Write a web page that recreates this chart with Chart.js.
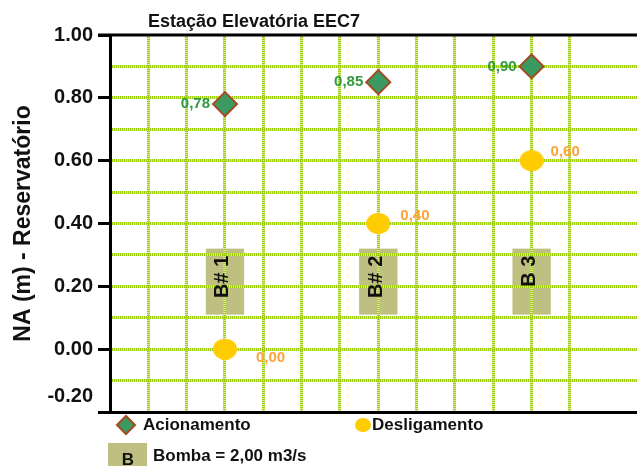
<!DOCTYPE html>
<html>
<head>
<meta charset="utf-8">
<title>Estação Elevatória EEC7</title>
<script src="https://cdn.jsdelivr.net/npm/chart.js@4.4.0/dist/chart.umd.min.js"></script>
<style>
  html, body { margin: 0; padding: 0; background: #fff; }
  #wrap { width: 637px; height: 466px; position: relative; }
</style>
</head>
<body>
<div id="wrap"><canvas id="chart" width="637" height="466"></canvas></div>
<script>
"use strict";

// Pumps along the x axis
const pumpLabels = ['B# 1', 'B# 2', 'B 3'];
const pumpX = [3, 7, 11];
// NA (m) levels
const startLevels = [0.78, 0.85, 0.90];   // Acionamento
const stopLevels = [0.00, 0.40, 0.60];    // Desligamento
// Pump boxes, NA (m) range
const pumpBoxLow = [0.11, 0.11, 0.11];
const pumpBoxHigh = [0.32, 0.32, 0.32];
// Labelled y ticks
const yTickLabels = [-0.2, 0.0, 0.2, 0.4, 0.6, 0.8, 1.0];

const FONT = "'Liberation Sans', Arial, sans-serif";
const GRID = '#9fcb12';
const GRID_LIGHT = '#d6eb98';
const OLIVE = '#bfbf82';
const GREEN = '#3a9a62';
const BROWN = '#a34a22';
const YELLOW = '#ffcc00';

// yellow ellipse used as point style
function ellipseStyle(w, h) {
    const c = document.createElement('canvas');
    c.width = w; c.height = h;
    const g = c.getContext('2d');
    g.fillStyle = YELLOW;
    g.beginPath();
    g.ellipse(w / 2, h / 2, w / 2, h / 2, 0, 0, Math.PI * 2);
    g.fill();
    return c;
}

function isMajor(v) {
    return yTickLabels.some(t => Math.abs(t - v) < 1e-6);
}
function xGridOn(v) { return v > 0 && Number.isInteger(v); }
function yGridOn(v) { return v < 0.95 && v > -0.15; }

// offsets of the Desligamento labels from their points
const stopLabelOffset = [[31, 9], [22, -8], [19, -9]];

const boxPlugin = {
    id: 'pumpBoxes',
    beforeDraw(chart) {
        const {ctx, chartArea: a, scales: {x, y}} = chart;
        ctx.save();
        ctx.fillStyle = OLIVE;
        pumpX.forEach((px, i) => {
            const l = x.getPixelForValue(px - 0.5), r = x.getPixelForValue(px + 0.5);
            const t = y.getPixelForValue(pumpBoxHigh[i]), b = y.getPixelForValue(pumpBoxLow[i]);
            ctx.fillRect(l, t, r - l, b - t);
        });
        // pale under-layer for the dotted grid
        ctx.strokeStyle = GRID_LIGHT;
        ctx.lineWidth = 3;
        ctx.beginPath();
        x.ticks.forEach(t => {
            if (!xGridOn(t.value)) return;
            const px = Math.floor(x.getPixelForValue(t.value)) + 0.5;
            ctx.moveTo(px, a.top); ctx.lineTo(px, a.bottom);
        });
        y.ticks.forEach(t => {
            if (!yGridOn(t.value)) return;
            const py = Math.floor(y.getPixelForValue(t.value)) + 0.5;
            ctx.moveTo(a.left, py); ctx.lineTo(a.right, py);
        });
        ctx.stroke();
        ctx.restore();
    },
    beforeDatasetsDraw(chart) {
        const {ctx, scales: {x, y}} = chart;
        ctx.save();
        ctx.fillStyle = '#111';
        ctx.font = 'bold 20px ' + FONT;
        ctx.textAlign = 'right';
        ctx.textBaseline = 'middle';
        pumpX.forEach((px, i) => {
            const cx = x.getPixelForValue(px);
            const top = y.getPixelForValue(pumpBoxHigh[i]) + 7;
            ctx.save();
            ctx.translate(cx - 2, top);
            ctx.rotate(-Math.PI / 2);
            ctx.fillText(pumpLabels[i], 0, 0);
            ctx.restore();
        });
        ctx.restore();
    },
    afterDatasetsDraw(chart) {
        const {ctx} = chart;
        ctx.save();
        ctx.font = 'bold 15px ' + FONT;
        ctx.textBaseline = 'middle';
        chart.getDatasetMeta(0).data.forEach((pt, i) => {
            ctx.fillStyle = '#2f9a3e';
            ctx.textAlign = 'right';
            ctx.fillText(startLevels[i].toFixed(2).replace('.', ','), pt.x - 15, pt.y);
        });
        chart.getDatasetMeta(1).data.forEach((pt, i) => {
            ctx.fillStyle = '#ffa23a';
            ctx.textAlign = 'left';
            const o = stopLabelOffset[i];
            ctx.fillText(stopLevels[i].toFixed(2).replace('.', ','), pt.x + o[0], pt.y + o[1]);
        });
        ctx.restore();
    },
    afterDraw(chart) {
        const {ctx, chartArea} = chart;
        ctx.save();
        // top frame line
        ctx.strokeStyle = '#000';
        ctx.lineWidth = 3;
        ctx.beginPath();
        ctx.moveTo(chartArea.left - 12, chartArea.top);
        ctx.lineTo(chartArea.right, chartArea.top);
        ctx.stroke();

        // title
        ctx.fillStyle = '#111';
        ctx.font = 'bold 18px ' + FONT;
        ctx.textAlign = 'center';
        ctx.textBaseline = 'middle';
        ctx.fillText('Estação Elevatória EEC7', 254, 22);

        // legend
        ctx.font = 'bold 17px ' + FONT;
        ctx.textAlign = 'left';
        ctx.beginPath();
        ctx.moveTo(117, 425); ctx.lineTo(126, 416); ctx.lineTo(135, 425); ctx.lineTo(126, 434);
        ctx.closePath();
        ctx.fillStyle = GREEN; ctx.fill();
        ctx.lineWidth = 2; ctx.strokeStyle = BROWN; ctx.stroke();
        ctx.fillStyle = '#111';
        ctx.fillText('Acionamento', 143, 425);

        ctx.fillStyle = YELLOW;
        ctx.beginPath();
        ctx.ellipse(363, 425, 8, 7, 0, 0, Math.PI * 2);
        ctx.fill();
        ctx.fillStyle = '#111';
        ctx.fillText('Desligamento', 372, 425);

        ctx.fillStyle = OLIVE;
        ctx.fillRect(108, 443, 39, 23);
        ctx.fillStyle = '#111';
        ctx.textAlign = 'center';
        ctx.fillText('B', 128, 460);
        ctx.textAlign = 'left';
        ctx.fillText('Bomba = 2,00 m3/s', 153, 456);
        ctx.restore();
    }
};

new Chart(document.getElementById('chart'), {
    type: 'scatter',
    data: {
        datasets: [{
            label: 'Acionamento',
            data: pumpX.map((px, i) => ({x: px, y: startLevels[i]})),
            pointStyle: 'rectRot',
            pointRadius: 12,
            pointHoverRadius: 12,
            backgroundColor: GREEN,
            borderColor: BROWN,
            borderWidth: 2,
            clip: false
        }, {
            label: 'Desligamento',
            data: pumpX.map((px, i) => ({x: px, y: stopLevels[i]})),
            pointStyle: ellipseStyle(24, 21),
            backgroundColor: YELLOW,
            clip: false
        }]
    },
    options: {
        responsive: false,
        animation: false,
        layout: {autoPadding: false, padding: {top: 35, bottom: 54, left: 0, right: 0}},
        plugins: {
            legend: {display: false},
            tooltip: {enabled: false}
        },
        scales: {
            x: {
                type: 'linear',
                min: 0,
                max: 13.75,
                ticks: {display: false, stepSize: 1},
                grid: {
                    drawTicks: false,
                    lineWidth: 3,
                    color: c => (c.tick && xGridOn(c.tick.value)) ? GRID : 'rgba(0,0,0,0)'
                },
                border: {color: '#000', width: 3, dash: [1, 1]},
                afterFit: s => { s.height = 0; }
            },
            y: {
                min: -0.2,
                max: 1.0,
                ticks: {
                    stepSize: 0.1,
                    autoSkip: false,
                    padding: 5,
                    color: '#111',
                    font: {family: FONT, size: 20, weight: 'bold', lineHeight: 1.6},
                    callback: v => {
                        if (!isMajor(v)) return '';
                        const s = Math.abs(v) < 1e-9 ? '0.00' : v.toFixed(2);
                        return v < -0.1 ? [s, ''] : s;
                    }
                },
                grid: {
                    lineWidth: 3,
                    tickLength: 12,
                    tickWidth: 3,
                    color: c => (c.tick && yGridOn(c.tick.value)) ? GRID : 'rgba(0,0,0,0)',
                    tickColor: c => (c.tick && isMajor(c.tick.value)) ? '#000' : 'rgba(0,0,0,0)'
                },
                border: {color: '#000', width: 3, dash: [1, 1]},
                title: {
                    display: true,
                    text: 'NA (m) - Reservatório',
                    color: '#111',
                    font: {family: FONT, size: 23, weight: 'bold'},
                    padding: {top: 10, bottom: 0}
                },
                afterFit: s => { s.width = 110; }
            }
        }
    },
    plugins: [boxPlugin]
});
</script>
</body>
</html>
